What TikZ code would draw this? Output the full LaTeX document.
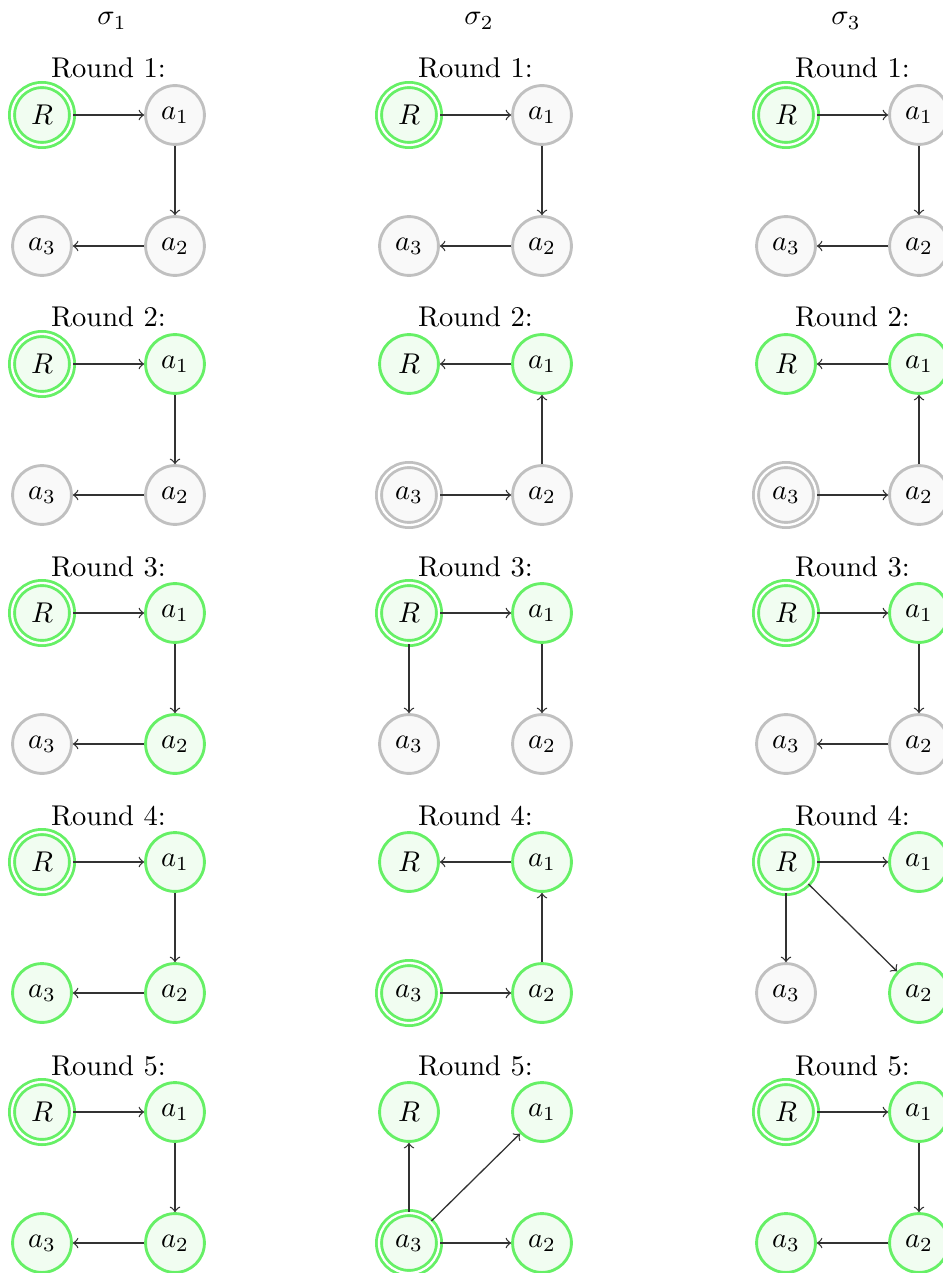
\documentclass[tikz,border=0pt]{standalone}
\usetikzlibrary{arrows}

\definecolor{donegreen}{RGB}{102,240,102}
\definecolor{donefill}{RGB}{241,253,241}
\definecolor{idlegray}{RGB}{192,192,192}
\definecolor{idlefill}{RGB}{249,249,249}

\tikzset{
  agent/.style={circle, minimum size=20.6pt, inner sep=0pt, line width=1pt},
  idle/.style={agent, draw=idlegray, fill=idlefill},
  done/.style={agent, draw=donegreen, fill=donefill},
  idlesrc/.style={idle, minimum size=21pt, double=white, double distance=0.8pt},
  donesrc/.style={done, minimum size=21pt, double=white, double distance=0.8pt},
  roundlabel/.style={anchor=base, inner sep=0pt},
  seqlabel/.style={anchor=base, inner sep=0pt},
  edge/.style={->, draw=black!80, line width=0.45pt},
}

% #1 prefix, #2 x, #3 y, #4 round, #5..#8 styles of R, a1, a2, a3
\newcommand{\gamestate}[8]{%
  \node[roundlabel] (#1-lab) at (#2+66.5,#3-37) {Round #4:};
  \node[#5] (#1-R)  at (#2,#3)         {$R$};
  \node[#6] (#1-a1) at (#2+133,#3)     {$a_1$};
  \node[#7] (#1-a2) at (#2+133,#3+131) {$a_2$};
  \node[#8] (#1-a3) at (#2,#3+131)     {$a_3$};
}

\begin{document}
\begin{tikzpicture}[x=0.35pt, y=-0.35pt]
\useasboundingbox (0,0) rectangle (943,1273);

% column headers
\node[seqlabel] (sig1) at (112,25) {$\sigma_1$};
\node[seqlabel] (sig2) at (479,25) {$\sigma_2$};
\node[seqlabel] (sig3) at (846,25) {$\sigma_3$};

% ---------- sigma_1 ----------
\gamestate{a1}{42}{115}{1}{donesrc}{idle}{idle}{idle}
\gamestate{a2}{42}{364}{2}{donesrc}{done}{idle}{idle}
\gamestate{a3}{42}{613}{3}{donesrc}{done}{done}{idle}
\gamestate{a4}{42}{862}{4}{donesrc}{done}{done}{done}
\gamestate{a5}{42}{1112}{5}{donesrc}{done}{done}{done}
\foreach \r in {a1,a2,a3,a4,a5}{
  \draw[edge] (\r-R) -- (\r-a1);
  \draw[edge] (\r-a1) -- (\r-a2);
  \draw[edge] (\r-a2) -- (\r-a3);
}

% ---------- sigma_2 ----------
\gamestate{b1}{409}{115}{1}{donesrc}{idle}{idle}{idle}
\gamestate{b2}{409}{364}{2}{done}{done}{idle}{idlesrc}
\gamestate{b3}{409}{613}{3}{donesrc}{done}{idle}{idle}
\gamestate{b4}{409}{862}{4}{done}{done}{done}{donesrc}
\gamestate{b5}{409}{1112}{5}{done}{done}{done}{donesrc}
\draw[edge] (b1-R) -- (b1-a1);
\draw[edge] (b1-a1) -- (b1-a2);
\draw[edge] (b1-a2) -- (b1-a3);
\draw[edge] (b2-a1) -- (b2-R);
\draw[edge] (b2-a2) -- (b2-a1);
\draw[edge] (b2-a3) -- (b2-a2);
\draw[edge] (b3-R) -- (b3-a1);
\draw[edge] (b3-a1) -- (b3-a2);
\draw[edge] (b3-R) -- (b3-a3);
\draw[edge] (b4-a1) -- (b4-R);
\draw[edge] (b4-a2) -- (b4-a1);
\draw[edge] (b4-a3) -- (b4-a2);
\draw[edge] (b5-a3) -- (b5-R);
\draw[edge] (b5-a3) -- (b5-a1);
\draw[edge] (b5-a3) -- (b5-a2);

% ---------- sigma_3 ----------
\gamestate{c1}{786}{115}{1}{donesrc}{idle}{idle}{idle}
\gamestate{c2}{786}{364}{2}{done}{done}{idle}{idlesrc}
\gamestate{c3}{786}{613}{3}{donesrc}{done}{idle}{idle}
\gamestate{c4}{786}{862}{4}{donesrc}{done}{done}{idle}
\gamestate{c5}{786}{1112}{5}{donesrc}{done}{done}{done}
\draw[edge] (c1-R) -- (c1-a1);
\draw[edge] (c1-a1) -- (c1-a2);
\draw[edge] (c1-a2) -- (c1-a3);
\draw[edge] (c2-a1) -- (c2-R);
\draw[edge] (c2-a2) -- (c2-a1);
\draw[edge] (c2-a3) -- (c2-a2);
\draw[edge] (c3-R) -- (c3-a1);
\draw[edge] (c3-a1) -- (c3-a2);
\draw[edge] (c3-a2) -- (c3-a3);
\draw[edge] (c4-R) -- (c4-a1);
\draw[edge] (c4-R) -- (c4-a3);
\draw[edge] (c4-R) -- (c4-a2);
\draw[edge] (c5-R) -- (c5-a1);
\draw[edge] (c5-a1) -- (c5-a2);
\draw[edge] (c5-a2) -- (c5-a3);
\end{tikzpicture}
\end{document}
